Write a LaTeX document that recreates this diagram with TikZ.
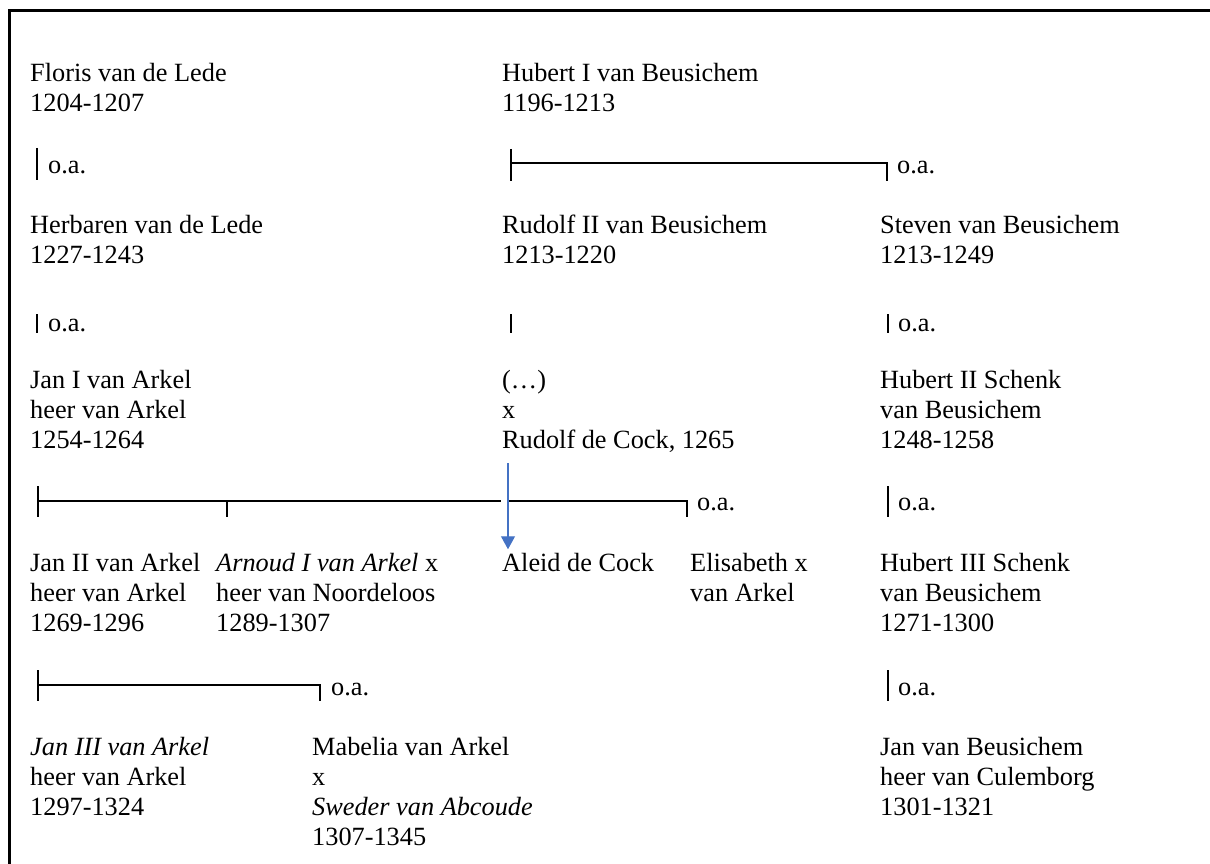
\documentclass[tikz,border=0pt]{standalone}
\usepackage{fontspec}
\setmainfont{Liberation Serif}
\usepackage{tikz}
\usetikzlibrary{arrows.meta}
\definecolor{arrowblue}{RGB}{68,114,196}
\tikzset{
  namenode/.style = {anchor=base west, align=left, inner sep=0pt,
                     font=\fontsize{26.3pt}{30.1pt}\selectfont},
  oalbl/.style    = {anchor=base west, inner sep=0pt,
                     font=\fontsize{26.3pt}{30.1pt}\selectfont},
  lineedge/.style = {line width=2pt, black},
  linkarrow/.style = {-{Triangle[length=13pt,width=14pt]},
                      line width=1.2pt, arrowblue},
  frameline/.style = {line width=3pt, black}
}

\begin{document}
\begin{tikzpicture}[x=1pt, y=-1pt]
  \useasboundingbox (0,0) rectangle (1210,864);
  \draw[frameline] (9,864) -- (9,11) -- (1210,11);
  % Level 1 (nodes sit on the baseline of their last line)
  \node[namenode] (floris)  at (30, 111.8) {Floris van de Lede\\1204-1207};
  \node[namenode] (hubertI) at (502,111.8) {Hubert I van Beusichem\\1196-1213};
  % Level 2
  \node[namenode] (herbaren) at (30, 263.4) {Herbaren van de Lede\\1227-1243};
  \node[namenode] (rudolfII) at (502,263.4) {Rudolf II van Beusichem\\1213-1220};
  \node[namenode] (steven)   at (880,263.4) {Steven van Beusichem\\1213-1249};
  % Level 3
  \node[namenode] (janI)     at (30, 448.2) {Jan I van Arkel\\heer van Arkel\\1254-1264};
  \node[namenode] (cock)     at (502,448.2) {(…)\\x\\Rudolf de Cock, 1265};
  \node[namenode] (hubertII) at (880,448.2) {Hubert II Schenk\\van Beusichem\\1248-1258};
  % Level 4
  \node[namenode] (janII)      at (30, 631.9) {Jan II van Arkel\\heer van Arkel\\1269-1296};
  \node[namenode] (arnoud)     at (216,631.9) {\textit{Arnoud I van Arkel} x\\heer van Noordeloos\\1289-1307};
  \node[namenode] (aleid)      at (502,571.7) {Aleid de Cock};
  \node[namenode] (elisabeth)  at (690,601.8) {Elisabeth x\\van Arkel};
  \node[namenode] (hubertIII)  at (880,631.9) {Hubert III Schenk\\van Beusichem\\1271-1300};
  % Level 5
  \node[namenode] (janIII)  at (30, 815.2) {\textit{Jan III van Arkel}\\heer van Arkel\\1297-1324};
  \node[namenode] (mabelia) at (312,845.3) {Mabelia van Arkel\\x\\\textit{Sweder van Abcoude}\\1307-1345};
  \node[namenode] (janbeus) at (880,815.2) {Jan van Beusichem\\heer van Culemborg\\1301-1321};
  % Bars, level 1 -> 2
  \coordinate (l1a) at (37,148);   \coordinate (l1b) at (37,180);
  \coordinate (h1a) at (511,149);  \coordinate (h1b) at (511,181);
  \coordinate (h1m) at (511,163.3);\coordinate (h1r) at (887,163.3);
  \coordinate (h1e) at (887,181);
  \draw[lineedge] (l1a) -- (l1b);
  \draw[lineedge] (h1a) -- (h1b);
  \draw[lineedge] (h1m) -- (h1r) -- (h1e);
  \node[oalbl] (oa1) at (48,174) {o.a.};
  \node[oalbl] (oa2) at (897,173.5) {o.a.};
  % Bars, level 2 -> 3
  \coordinate (l2a) at (37,314);   \coordinate (l2b) at (37,333);
  \coordinate (r2a) at (511,314);  \coordinate (r2b) at (511,333);
  \coordinate (s2a) at (888,314);  \coordinate (s2b) at (888,333);
  \draw[lineedge] (l2a) -- (l2b);
  \draw[lineedge] (r2a) -- (r2b);
  \draw[lineedge] (s2a) -- (s2b);
  \node[oalbl] (oa3) at (48,331.7) {o.a.};
  \node[oalbl] (oa4) at (898,331.7) {o.a.};
  % Bars, level 3 -> 4
  \coordinate (j3a) at (38,486);   \coordinate (j3b) at (38,517);
  \coordinate (j3m) at (38,501.3); \coordinate (j3g) at (501,501.3);
  \coordinate (a3m) at (227,501.3);\coordinate (a3b) at (227,517);
  \coordinate (e3m) at (507,501.3);\coordinate (e3r) at (687,501.3);
  \coordinate (e3b) at (687,517);
  \coordinate (s3a) at (888,486);  \coordinate (s3b) at (888,517);
  \draw[lineedge] (j3a) -- (j3b);
  \draw[lineedge] (j3m) -- (j3g);
  \draw[lineedge] (a3m) -- (a3b);
  \draw[lineedge] (e3m) -- (e3r) -- (e3b);
  \draw[lineedge] (s3a) -- (s3b);
  \node[oalbl] (oa5) at (697,510.7) {o.a.};
  \node[oalbl] (oa6) at (898,510.7) {o.a.};
  % Bars, level 4 -> 5
  \coordinate (j4a) at (38,670);   \coordinate (j4b) at (38,701);
  \coordinate (j4m) at (38,685);   \coordinate (j4r) at (320,685);
  \coordinate (j4e) at (320,701);
  \coordinate (s4a) at (888,670);  \coordinate (s4b) at (888,701);
  \draw[lineedge] (j4a) -- (j4b);
  \draw[lineedge] (j4m) -- (j4r) -- (j4e);
  \draw[lineedge] (s4a) -- (s4b);
  \node[oalbl] (oa7) at (331,695) {o.a.};
  \node[oalbl] (oa8) at (898,695) {o.a.};
  % Link de Cock -> Aleid
  \coordinate (cockdown) at (508,463);
  \draw[linkarrow, shorten >=4pt] (cockdown) -- (cockdown |- aleid.north);
\end{tikzpicture}
\end{document}
